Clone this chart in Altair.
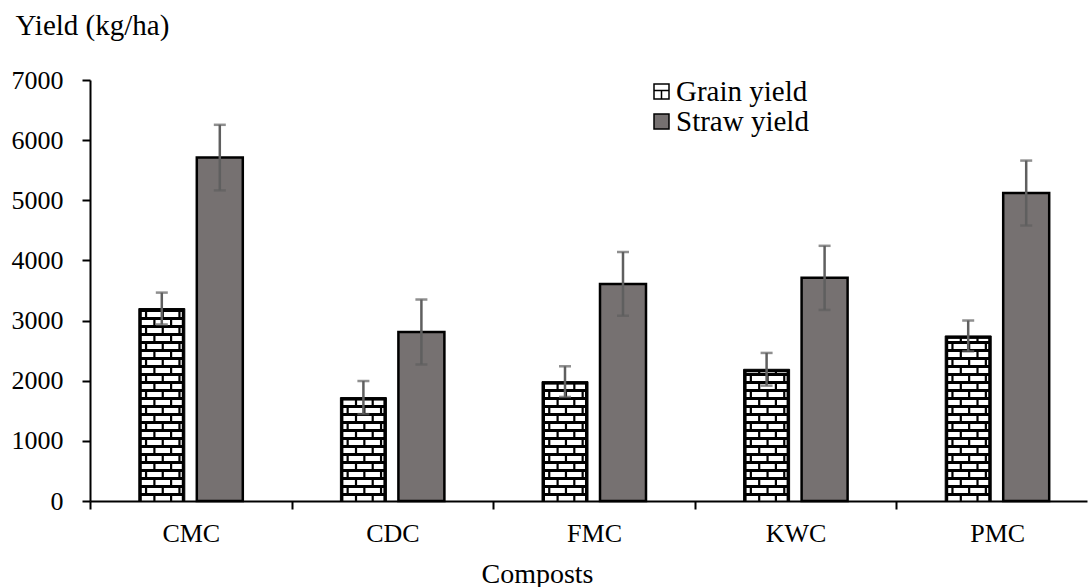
import altair as alt
import pandas as pd

# ---------------- data ----------------
categories = ["CMC", "CDC", "FMC", "KWC", "PMC"]
series_names = ["Grain yield", "Straw yield"]
grain_yield = [3200, 1720, 1985, 2190, 2745]
grain_err = [265, 275, 255, 272, 256]
straw_yield = [5710, 2810, 3610, 3710, 5120]
straw_err = [545, 540, 530, 533, 540]
y_ticks = [0, 1000, 2000, 3000, 4000, 5000, 6000, 7000]

# ---------------- geometry / style ----------------
W, H = 997, 421
PX_PER_CAT = 201.6
X_MIN = -0.5
X_MAX = X_MIN + W / PX_PER_CAT
Y_MAX = 7000
UX = 1.0 / PX_PER_CAT          # data units per pixel (x)
UY = Y_MAX / H                 # data units per pixel (y)
HALF_GAP = 6 * UX
BAR_W = 46 * UX
FONT = "Liberation Serif"
STRAW_FILL = "#767171"
ERR_COLOR = "#5f5f5f"

rows = []
for i, cat in enumerate(categories):
    for s, vals, errs, sign in ((series_names[0], grain_yield, grain_err, -1),
                                (series_names[1], straw_yield, straw_err, 1)):
        v, e = vals[i], errs[i]
        if sign < 0:
            x0, x1 = i - HALF_GAP - BAR_W, i - HALF_GAP
        else:
            x0, x1 = i + HALF_GAP, i + HALF_GAP + BAR_W
        rows.append(dict(category=cat, series=s, x0=x0, x1=x1, xc=(x0 + x1) / 2,
                         value=v, mid=v / 2, lo=v - e, hi=v + e))
bars = pd.DataFrame(rows)
grain_bars = bars[bars.series == series_names[0]]
straw_bars = bars[bars.series == series_names[1]]

# brick texture for grain bars (white bricks on black mortar)
ROW_P, MORTAR_H = 8.0, 3.0
BRICK_P, JOINT = 16.7, 2.2
EDGE = 3.0
bricks = []
for _, b in grain_bars.iterrows():
    left, right = b.x0 + EDGE * UX, b.x1 - EDGE * UX
    top = b.value - EDGE * UY
    r = 0
    while r * ROW_P * UY < top:
        yb = r * ROW_P * UY
        yt = min(yb + (ROW_P - MORTAR_H) * UY, top)
        off = (r % 2) * BRICK_P / 2
        k = -1
        while True:
            bx0 = b.x0 + (k * BRICK_P + off) * UX
            if bx0 > right:
                break
            bx1 = bx0 + (BRICK_P - JOINT) * UX
            c0, c1 = max(bx0, left), min(bx1, right)
            if c1 - c0 > 0.5 * UX and yt > yb:
                bricks.append(dict(bx0=c0, bx1=c1, by0=yb, by1=yt))
            k += 1
        r += 1
bricks = pd.DataFrame(bricks)

caps = pd.concat([bars[["xc", "lo"]].rename(columns={"lo": "cy"}),
                  bars[["xc", "hi"]].rename(columns={"hi": "cy"})])

# ---------------- scales / axes ----------------
x_scale = alt.Scale(domain=[X_MIN, X_MAX], nice=False, zero=False)
y_scale = alt.Scale(domain=[0, Y_MAX], nice=False, zero=True)

label_expr = "[" + ",".join("'%s'" % c for c in categories) + "][datum.value]"
x_axis = alt.Axis(
    values=list(range(len(categories))), labelExpr=label_expr,
    tickOffset=-PX_PER_CAT / 2, labelOffset=PX_PER_CAT / 2,
    tickSize=8, tickWidth=2, tickColor="black", domainColor="black", domainWidth=2,
    labelFont=FONT, labelFontSize=26, labelColor="black", labelBaseline="alphabetic",
    labelPadding=32, grid=False, zindex=2,
    title="Composts", titleFont=FONT, titleFontSize=28, titleFontWeight="normal",
    titleColor="black", titleX=447, titleY=81, titleBaseline="alphabetic", titleAlign="center",
)
y_axis = alt.Axis(
    values=y_ticks, format="d",
    tickSize=8, tickWidth=2, tickColor="black", domainColor="black", domainWidth=2,
    labelFont=FONT, labelFontSize=26, labelColor="black", labelPadding=19, grid=False, zindex=2,
    title="Yield (kg/ha)", titleFont=FONT, titleFontSize=29, titleFontWeight="normal",
    titleColor="black", titleAngle=0, titleX=-75, titleY=-46, titleAlign="left",
    titleBaseline="alphabetic",
)

legend = alt.Legend(
    title=None, orient="none", legendX=557, legendY=-3, padding=0,
    labelFont=FONT, labelFontSize=29, labelColor="black", labelOffset=0,
    rowPadding=-1.5, symbolSize=225, symbolStrokeWidth=1.5,
)
grain_symbol = "M-1,-1H1V1H-1Z M-1,-0.15H1 M0,-0.15V1"

legend_pts = alt.Chart(bars).mark_point(filled=True, size=225, strokeWidth=1.5,
                                        opacity=1).encode(
    x=alt.X("xc:Q", scale=x_scale, axis=x_axis),
    y=alt.Y("mid:Q", scale=y_scale, axis=y_axis),
    fill=alt.Fill("series:N", scale=alt.Scale(domain=series_names,
                                              range=["white", STRAW_FILL]), legend=legend),
    stroke=alt.Stroke("series:N", scale=alt.Scale(domain=series_names,
                                                  range=["black", "black"]), legend=legend),
    shape=alt.Shape("series:N", scale=alt.Scale(domain=series_names,
                                                range=[grain_symbol, "square"]), legend=legend),
)

straw_layer = alt.Chart(straw_bars).mark_rect(fill=STRAW_FILL, stroke="black",
                                              strokeWidth=2.5).encode(
    x=alt.X("x0:Q", scale=x_scale), x2="x1:Q",
    y=alt.Y("value:Q", scale=y_scale), y2=alt.Y2(datum=0),
)
grain_bg = alt.Chart(grain_bars).mark_rect(fill="black", stroke="black",
                                           strokeWidth=1).encode(
    x=alt.X("x0:Q", scale=x_scale), x2="x1:Q",
    y=alt.Y("value:Q", scale=y_scale), y2=alt.Y2(datum=0),
)
brick_layer = alt.Chart(bricks).mark_rect(fill="white", strokeWidth=0).encode(
    x=alt.X("bx0:Q", scale=x_scale), x2="bx1:Q",
    y=alt.Y("by0:Q", scale=y_scale), y2="by1:Q",
)
err_rules = alt.Chart(bars).mark_rule(color=ERR_COLOR, strokeWidth=2.5).encode(
    x=alt.X("xc:Q", scale=x_scale),
    y=alt.Y("lo:Q", scale=y_scale), y2="hi:Q",
)
err_caps = alt.Chart(caps).mark_tick(color=ERR_COLOR, orient="horizontal", size=12,
                                     thickness=2.5).encode(
    x=alt.X("xc:Q", scale=x_scale),
    y=alt.Y("cy:Q", scale=y_scale),
)

chart = alt.layer(legend_pts, straw_layer, grain_bg, brick_layer, err_rules, err_caps).properties(
    width=W, height=H,
    padding={"left": 90, "top": 80, "right": 2, "bottom": 86},
    autosize=alt.AutoSizeParams(type="none"),
    background="white",
).configure_view(stroke=None)

chart.save("out.html", embed_options={"renderer": "svg", "actions": False})
